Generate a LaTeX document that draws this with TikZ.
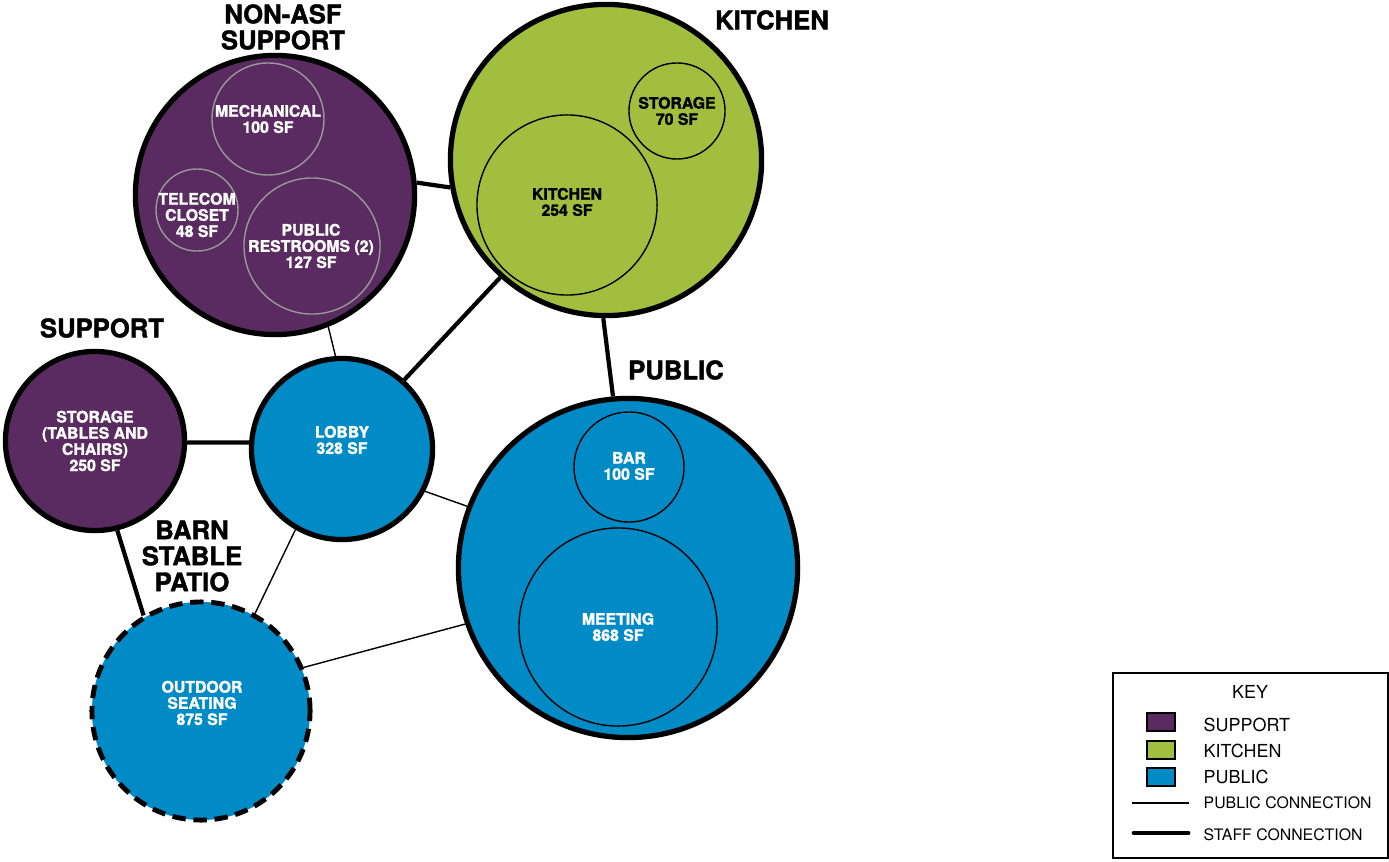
\documentclass[tikz,border=0pt]{standalone}
\usepackage{fontspec}
\setmainfont[BoldFeatures={FakeBold=1.6}]{TeX Gyre Heros}
\definecolor{suppurple}{HTML}{5A2B60}
\definecolor{kitgreen}{HTML}{A1BE3E}
\definecolor{pubblue}{HTML}{008BC7}
\tikzset{
	room/.style={circle, draw=black, line width=1.5pt, inner sep=0pt},
	subroom/.style={circle, draw=black, line width=0.4pt, inner sep=0pt},
	subgray/.style={circle, draw=black!40, line width=0.4pt, inner sep=0pt},
	lbl/.style={font=\bfseries\fontsize{4.5}{4.6}\selectfont, align=center, inner sep=0pt},
	zonetitle/.style={font=\bfseries\fontsize{7.3}{7.4}\selectfont, align=center, inner sep=0pt},
	keytxt/.style={font=\fontsize{5.1}{5.2}\selectfont, inner sep=0pt, anchor=base west},
	staff/.style={line width=1.2pt},
	pubconn/.style={line width=0.4pt},
}

\begin{document}
\begin{tikzpicture}[x=0.01cm, y=-0.01cm]
		%%%%% START %%%%%
		\useasboundingbox (0, 0) rectangle (1389, 861);
		
		% zones
		\node[room, fill=suppurple, minimum size=2.79cm] (nonasf) at (275, 195) {};
		\node[room, fill=kitgreen, minimum size=3.11cm] (kitchen) at (606, 160) {};
		\node[room, fill=suppurple, minimum size=1.79cm] (storage) at (95, 441) {};
		\node[room, fill=pubblue, minimum size=1.81cm] (lobby) at (342, 449) {};
		\node[room, fill=pubblue, minimum size=3.39cm] (public) at (628, 568) {};
		\node[room, fill=pubblue, dash pattern=on 3.8pt off 2.2pt, line width=1.4pt, minimum size=2.18cm] (outdoor) at (201, 711) {};
		
		% rooms inside
		\node[subgray, minimum size=1.12cm] (mech) at (268, 119) {};
		\node[subgray, minimum size=0.82cm] (telecom) at (197, 210) {};
		\node[subgray, minimum size=1.36cm] (restroom) at (312, 246) {};
		\node[subroom, minimum size=1.80cm] (kitroom) at (567, 205) {};
		\node[subroom, minimum size=0.96cm] (kitstore) at (677, 111) {};
		\node[subroom, minimum size=1.10cm] (bar) at (629, 467) {};
		\node[subroom, minimum size=1.98cm] (meeting) at (618, 627) {};
		
		% connections
		\draw[staff] (nonasf.5) -- (kitchen.190);
		\draw[pubconn] (nonasf.-68) -- (lobby.94);
		\draw[staff] (lobby.48) -- (kitchen.228);
		\draw[staff] (kitchen.269) -- (public.95);
		\draw[staff] (storage.-1) -- (lobby.176);
		\draw[pubconn] (lobby.-27) -- (public.159);
		\draw[pubconn] (lobby.240) -- (outdoor.61);
		\draw[staff] (storage.-76) -- (outdoor.121);
		\draw[pubconn] (outdoor.23) -- (public.199);
		
		% labels
		\node[lbl, white] (mechtxt) at (268, 119) {MECHANICAL\\100 SF};
		\node[lbl, white] (telecomtxt) at (197, 215) {TELECOM\\CLOSET\\48 SF};
		\node[lbl, white] (restroomtxt) at (311, 246) {PUBLIC\\RESTROOMS (2)\\127 SF};
		\node[lbl] (kitroomtxt) at (567, 202) {KITCHEN\\254 SF};
		\node[lbl] (kitstoretxt) at (677, 111) {STORAGE\\70 SF};
		\node[lbl, white] (storagetxt) at (95, 441) {STORAGE\\(TABLES AND\\CHAIRS)\\250 SF};
		\node[lbl, white] (lobbytxt) at (342, 440) {LOBBY\\328 SF};
		\node[lbl, white] (bartxt) at (629, 466) {BAR\\100 SF};
		\node[lbl, white] (meetingtxt) at (618, 627) {MEETING\\868 SF};
		\node[lbl, white] (outdoortxt) at (202, 703) {OUTDOOR\\SEATING\\875 SF};
		
		\node[zonetitle] (t-nonasf) at (283, 27) {NON-ASF\\SUPPORT};
		\node[zonetitle] (t-kitchen) at (772, 20) {KITCHEN};
		\node[zonetitle] (t-support) at (102, 328) {SUPPORT};
		\node[zonetitle] (t-public) at (676, 370) {PUBLIC};
		\node[zonetitle] (t-patio) at (192, 556) {BARN\\STABLE\\PATIO};
		
		% key
		\draw[line width=0.5pt] (1113, 673) rectangle (1388, 858);
		\node[font=\fontsize{5.1}{5.2}\selectfont, inner sep=0pt] (keyhead) at (1250, 692) {KEY};
		\draw[fill=suppurple, line width=0.8pt] (1147, 713) rectangle (1175, 731);
		\draw[fill=kitgreen, line width=0.8pt] (1147, 741) rectangle (1175, 759);
		\draw[fill=pubblue, line width=0.8pt] (1147, 768) rectangle (1175, 786);
		\node[keytxt] (k-support) at (1203, 731) {SUPPORT};
		\node[keytxt] (k-kitchen) at (1203, 757) {KITCHEN};
		\node[keytxt] (k-public) at (1203, 783) {PUBLIC};
		\node[keytxt, font=\fontsize{4.5}{5}\selectfont] (k-pubconn) at (1203, 808) {PUBLIC CONNECTION};
		\node[keytxt, font=\fontsize{4.5}{5}\selectfont] (k-staff) at (1203, 840) {STAFF CONNECTION};
		\coordinate (pc-a) at (1132, 803);
		\coordinate (pc-b) at (1189, 803);
		\coordinate (sc-a) at (1134, 833);
		\coordinate (sc-b) at (1188, 833);
		\draw[pubconn] (pc-a) -- (pc-b);
		\draw[line width=1.4pt, line cap=round] (sc-a) -- (sc-b);
		%%%%% END %%%%%
\end{tikzpicture}
\end{document}
